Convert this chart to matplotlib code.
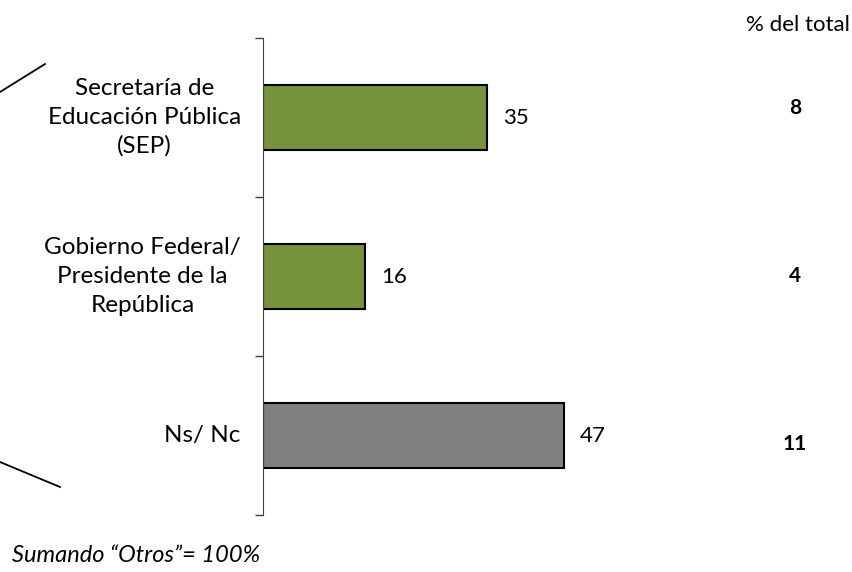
import matplotlib.pyplot as plt
import numpy as np

categories = ["Secretaría de\nEducación Pública\n(SEP)",
              "Gobierno Federal/\nPresidente de la\nRepública",
              "Ns/ Nc"]
values = [35, 16, 47]
pct_total = [8, 4, 11]
colors = ["#77933C", "#77933C", "#808080"]

plt.rcParams['font.family'] = ['Lato', 'DejaVu Sans']

fig = plt.figure(figsize=(8.52, 5.72), dpi=100)
ax = fig.add_axes([263 / 852, 57 / 572, 448 / 852, 477 / 572])

y = np.arange(len(categories))
ax.barh(y, values, height=0.41, color=colors, edgecolor='black', linewidth=1.5)
ax.set_xlim(0, 70)
ax.set_ylim(2.5, -0.5)

for yi, v in zip(y, values):
    ax.text(v + 2.5, yi, str(v), va='center', ha='left', fontsize=16)

# category labels, right-aligned left of the axis, lines centred
ax.set_yticks(y)
ax.set_yticklabels(categories, fontsize=17.5, linespacing=1.45,
                   multialignment='center', va='center')
ax.tick_params(axis='y', which='major', length=0, pad=16)
ax.set_yticks(np.arange(-0.5, 3, 1), minor=True)
ax.tick_params(axis='y', which='minor', length=6, width=1, color='#404040')

ax.set_xticks([])
for s in ['top', 'right', 'bottom']:
    ax.spines[s].set_visible(False)
ax.spines['left'].set_color('#404040')

# "% del total" column (spaced a little wider than the bars)
fig.text(798 / 852, 1 - 25 / 572, "% del total", ha='center', va='center', fontsize=16)
for i, p in enumerate(pct_total):
    ty = 1 - (276 + (i - 1) * 167.5) / 572
    fig.text(795 / 852, ty, str(p), ha='center', va='center', fontsize=15, fontweight='bold')

# decorative connector lines on the left
fig.add_artist(plt.Line2D([0 / 852, 45 / 852], [1 - 92 / 572, 1 - 64 / 572],
                          color='black', linewidth=1.3))
fig.add_artist(plt.Line2D([0 / 852, 60 / 852], [1 - 462 / 572, 1 - 487 / 572],
                          color='black', linewidth=1.3))

fig.text(12 / 852, 1 - 555 / 572, "Sumando \u201cOtros\u201d= 100%", ha='left', va='center',
         fontsize=17, style='italic')

fig.savefig("out.png", dpi=100)
